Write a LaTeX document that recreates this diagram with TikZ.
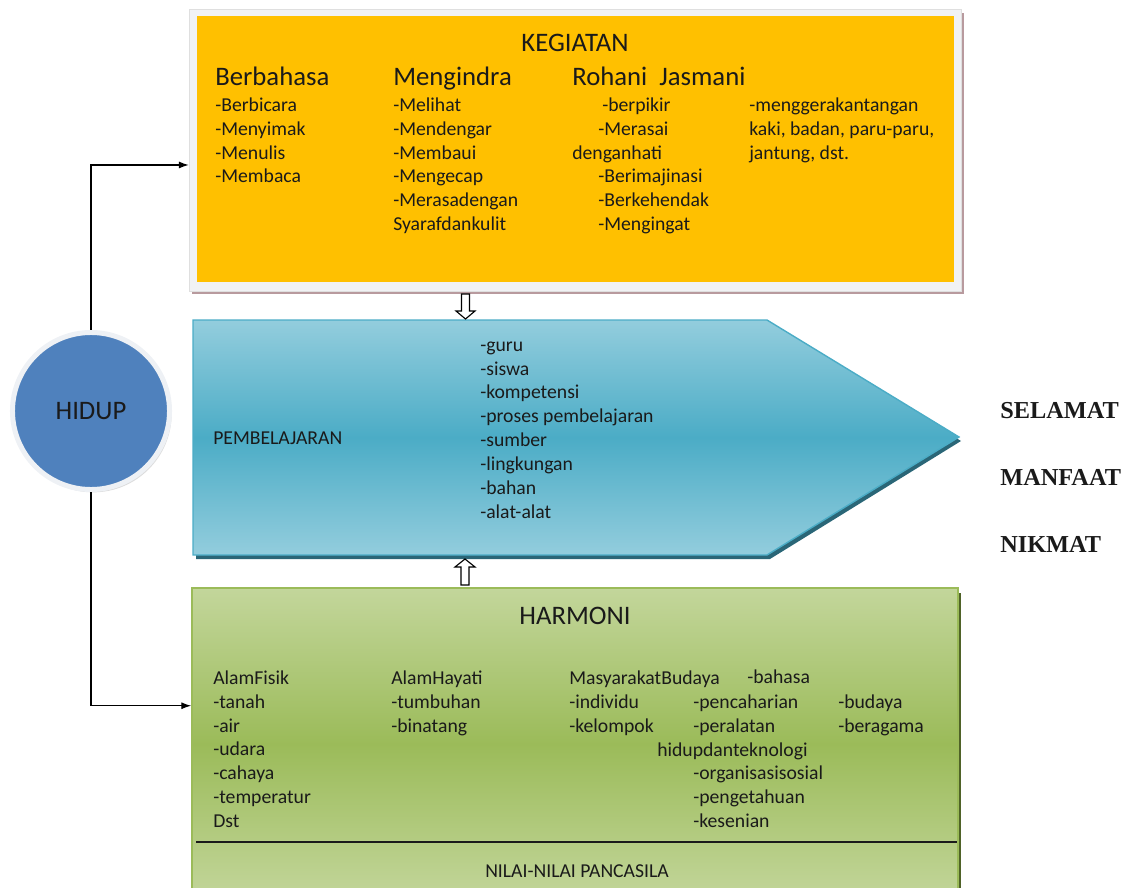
\documentclass[tikz,border=0pt]{standalone}
\usepackage{fontspec}
\setmainfont{Carlito}
\newfontfamily\serifbold{Liberation Serif}
\usetikzlibrary{positioning,arrows.meta,calc,fit,shadows}

\definecolor{kegorange}{HTML}{FFC000}
\definecolor{framegray}{HTML}{F1F2F4}
\definecolor{frameshade}{HTML}{B89A9E}
\definecolor{bluelight}{HTML}{93CDDD}
\definecolor{bluemid}{HTML}{4BACC6}
\definecolor{blueshade}{HTML}{2A6677}
\definecolor{greenlight}{HTML}{C3D69B}
\definecolor{greenmid}{HTML}{9BBB59}
\definecolor{greenshade}{HTML}{4F6228}
\definecolor{hidupblue}{HTML}{4F81BD}
\definecolor{ringwhite}{HTML}{EEF1F5}
\definecolor{textdark}{HTML}{1A1A1A}

\begin{document}
\begin{tikzpicture}[
  x=0.025cm, y=-0.025cm,
  >={Latex[length=7pt,width=5pt]},
  font=\fontsize{14}{17}\selectfont,
  every node/.style={text=textdark},
  lst/.style={anchor=north west, inner sep=0pt, align=left, execute at begin node=\strut},
  head/.style={anchor=base west, inner sep=0pt, font=\fontsize{19}{23}\selectfont},
  title/.style={anchor=base, inner sep=0pt, font=\fontsize{19}{23}\selectfont},
  hasil/.style={anchor=base west, inner sep=0pt, font=\fontsize{17.3}{20}\serifbold\bfseries},
  hollow/.style={draw=black, fill=white, line width=0.8pt, line join=miter},
  link/.style={->, line width=0.8pt}
]
\useasboundingbox (0,0) rectangle (1126,888);

% KEGIATAN box
\fill[frameshade] (192,13) rectangle (964,294);
\node[fit={(189,9) (961,291)}, inner sep=0pt, fill=framegray, draw=gray!25] (keg) {};
\fill[kegorange] (197,16) rectangle (954,282);

\node[title] (kegiatan) at (575,51) {KEGIATAN};
\node[head] (berbahasa) at (215,85) {Berbahasa};
\node[head] (mengindra) at (393,85) {Mengindra};
\node[head] (rohani) at (572,85) {Rohani\ \ Jasmani};

\node[lst] (berbahasa-l) at (215,97.3) {-Berbicara\\-Menyimak\\-Menulis\\-Membaca};
\node[lst] (mengindra-l) at (393,97.3) {-Melihat\\-Mendengar\\-Membaui\\-Mengecap\\-Merasadengan\\Syarafdankulit};
\node[lst] (rohani-l) at (572,97.3) {\hspace*{0.75cm}-berpikir\\\hspace*{0.65cm}-Merasai\\denganhati\\
  \hspace*{0.65cm}-Berimajinasi\\\hspace*{0.65cm}-Berkehendak\\\hspace*{0.65cm}-Mengingat};
\node[lst] (jasmani-l) at (749,97.3) {-menggerakantangan\\kaki, badan, paru-paru,\\jantung, dst.};

% PEMBELAJARAN arrow
\fill[blueshade] (196,324) -- (770,324) -- (961,441) -- (770,559) -- (196,559) -- cycle;
\path[draw=bluemid, line width=1pt, top color=bluelight, bottom color=bluelight, middle color=bluemid]
  (193,320) -- (767,320) -- (959,437) -- (767,555) -- (193,555) -- cycle;

\node[anchor=base west, inner sep=0pt] (pembelajaran) at (213,444) {PEMBELAJARAN};
\node[lst] (pembelajaran-l) at (480,341.3) {-guru\\-siswa\\-kompetensi\\-proses pembelajaran\\-sumber\\-lingkungan\\-bahan\\-alat-alat};

\node[hasil] (selamat) at (1000,418) {SELAMAT};
\node[hasil] (manfaat) at (1000,485) {MANFAAT};
\node[hasil] (nikmat) at (1000,552) {NIKMAT};

% HARMONI box
\fill[greenshade] (958,593) rectangle (961,900);
\node[fit={(192,588) (958,900)}, inner sep=0pt, draw=greenmid, line width=1.2pt,
  top color=greenlight, bottom color=greenlight, middle color=greenmid] (harm) {};
\draw[line width=1pt, textdark] (196,842) -- (957,842);

\node[title] (harmoni) at (575,624) {HARMONI};
\node[lst] (fisik) at (213,670.3) {AlamFisik\\-tanah\\-air\\-udara\\-cahaya\\-temperatur\\Dst};
\node[lst] (hayati) at (391,670.3) {AlamHayati\\-tumbuhan\\-binatang};
\node[lst] (masyarakat) at (569,670.3) {MasyarakatBudaya\\-individu\\-kelompok};
\node[lst] (bahasa) at (747,666.3) {-bahasa};
\node[lst] (teknologi) at (657,694.3) {\hspace*{0.9cm}-pencaharian\\\hspace*{0.9cm}-peralatan\\hidupdanteknologi\\
  \hspace*{0.9cm}-organisasisosial\\\hspace*{0.9cm}-pengetahuan\\\hspace*{0.9cm}-kesenian};
\node[lst] (budaya) at (838,694.3) {-budaya\\-beragama};
\node[anchor=base, inner sep=0pt] (pancasila) at (577,877) {NILAI-NILAI PANCASILA};

% HIDUP
\node[circle, minimum size=3.925cm, inner sep=0pt, fill=hidupblue, draw=ringwhite, line width=0.125cm,
  drop shadow={shadow xshift=1.5pt, shadow yshift=-2pt, fill=gray!55},
  font=\fontsize{19}{23}\selectfont] (hidup) at (91,411) {HIDUP};

\draw[link] (hidup.north) |- ($(keg.north west)!.553!(keg.south west)$);
\draw[link] (hidup.south) |- ($(harm.north west)!.378!(harm.south west)$);

% hollow arrows
\draw[hollow] (461.5,294) -- (469.5,294) -- (469.5,311) -- (475,311) -- (465.5,319) -- (456,311) -- (461.5,311) -- cycle;
\draw[hollow] (461,585) -- (469,585) -- (469,567) -- (475,567) -- (465,559) -- (455,567) -- (461,567) -- cycle;

\end{tikzpicture}
\end{document}
